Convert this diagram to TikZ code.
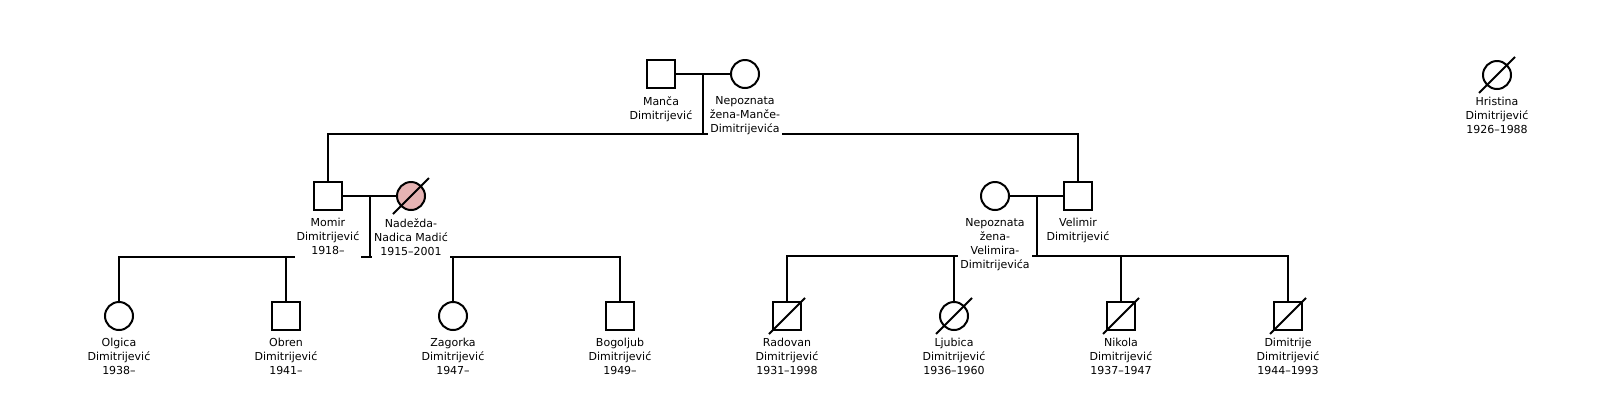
\documentclass[tikz,border=0pt]{standalone}
\usepackage{fontspec}
\setmainfont{DejaVu Sans}
\usetikzlibrary{positioning}
\definecolor{rose}{RGB}{230,180,180}

\begin{document}
\begin{tikzpicture}[x=1pt,y=-1pt,line width=2pt,
    male/.style={draw,fill=white,rectangle,minimum size=28pt,inner sep=0pt},
    female/.style={draw,fill=white,circle,minimum size=28pt,inner sep=0pt},
    nametag/.style={fill=white,align=center,inner xsep=2pt,inner ysep=2.5pt,
        font=\fontsize{11}{14}\selectfont,execute at end node={\strut}}]
    \useasboundingbox (0,0) rectangle (1615,392);

    % First generation
    \node[male] (manca) at (661,74) {};
    \node[female] (wife0) at (745,74) {};
    \node[female] (hristina) at (1497,75) {};

    % Second generation
    \node[male] (momir) at (328,196) {};
    \node[female,fill=rose] (nadezda) at (411,196) {};
    \node[female] (wife1) at (995,196) {};
    \node[male] (velimir) at (1078,196) {};

    % Third generation
    \node[female] (olgica) at (119,316) {};
    \node[male] (obren) at (286,316) {};
    \node[female] (zagorka) at (453,316) {};
    \node[male] (bogoljub) at (620,316) {};
    \node[male] (radovan) at (787,316) {};
    \node[female] (ljubica) at (954,316) {};
    \node[male] (nikola) at (1121,316) {};
    \node[male] (dimitrije) at (1288,316) {};

    % Junctions
    \coordinate (bar0) at (703,134);
    \coordinate (bar1) at (370,257);
    \coordinate (bar2) at (1037,256);

    % Manca and wife
    \draw (manca) -- (wife0);
    \draw (bar0 |- manca) -- (bar0);
    \draw (momir.north) |- (bar0) -| (velimir.north);

    % Momir and Nadezda
    \draw (momir) -- (nadezda);
    \draw (bar1 |- momir) -- (bar1);
    \draw (olgica.north) |- (bar1) -| (bogoljub.north);
    \draw (obren.north) -- (obren.north |- bar1);
    \draw (zagorka.north) -- (zagorka.north |- bar1);

    % Velimir and wife
    \draw (wife1) -- (velimir);
    \draw (bar2 |- velimir) -- (bar2);
    \draw (radovan.north) |- (bar2) -| (dimitrije.north);
    \draw (ljubica.north) -- (ljubica.north |- bar2);
    \draw (nikola.north) -- (nikola.north |- bar2);

    % Deceased
    \foreach \p in {hristina,nadezda,radovan,ljubica,nikola,dimitrije}
        \draw ([shift={(-18,18)}]\p.center) -- ([shift={(18,-18)}]\p.center);

    % Names
    \node[nametag,below=4pt of manca] (manca-t) {Manča\\Dimitrijević};
    \node[nametag,below=4pt of wife0] (wife0-t) {Nepoznata\\žena-Manče-\\Dimitrijevića};
    \node[nametag,below=4pt of hristina] (hristina-t) {Hristina\\Dimitrijević\\1926--1988};
    \node[nametag,below=4pt of momir] (momir-t) {Momir\\Dimitrijević\\1918--};
    \node[nametag,below=4pt of nadezda] (nadezda-t) {Nadežda-\\Nadica Madić\\1915--2001};
    \node[nametag,below=4pt of wife1] (wife1-t) {Nepoznata\\žena-\\Velimira-\\Dimitrijevića};
    \node[nametag,below=4pt of velimir] (velimir-t) {Velimir\\Dimitrijević};
    \node[nametag,below=4pt of olgica] (olgica-t) {Olgica\\Dimitrijević\\1938--};
    \node[nametag,below=4pt of obren] (obren-t) {Obren\\Dimitrijević\\1941--};
    \node[nametag,below=4pt of zagorka] (zagorka-t) {Zagorka\\Dimitrijević\\1947--};
    \node[nametag,below=4pt of bogoljub] (bogoljub-t) {Bogoljub\\Dimitrijević\\1949--};
    \node[nametag,below=4pt of radovan] (radovan-t) {Radovan\\Dimitrijević\\1931--1998};
    \node[nametag,below=4pt of ljubica] (ljubica-t) {Ljubica\\Dimitrijević\\1936--1960};
    \node[nametag,below=4pt of nikola] (nikola-t) {Nikola\\Dimitrijević\\1937--1947};
    \node[nametag,below=4pt of dimitrije] (dimitrije-t) {Dimitrije\\Dimitrijević\\1944--1993};
\end{tikzpicture}
\end{document}
